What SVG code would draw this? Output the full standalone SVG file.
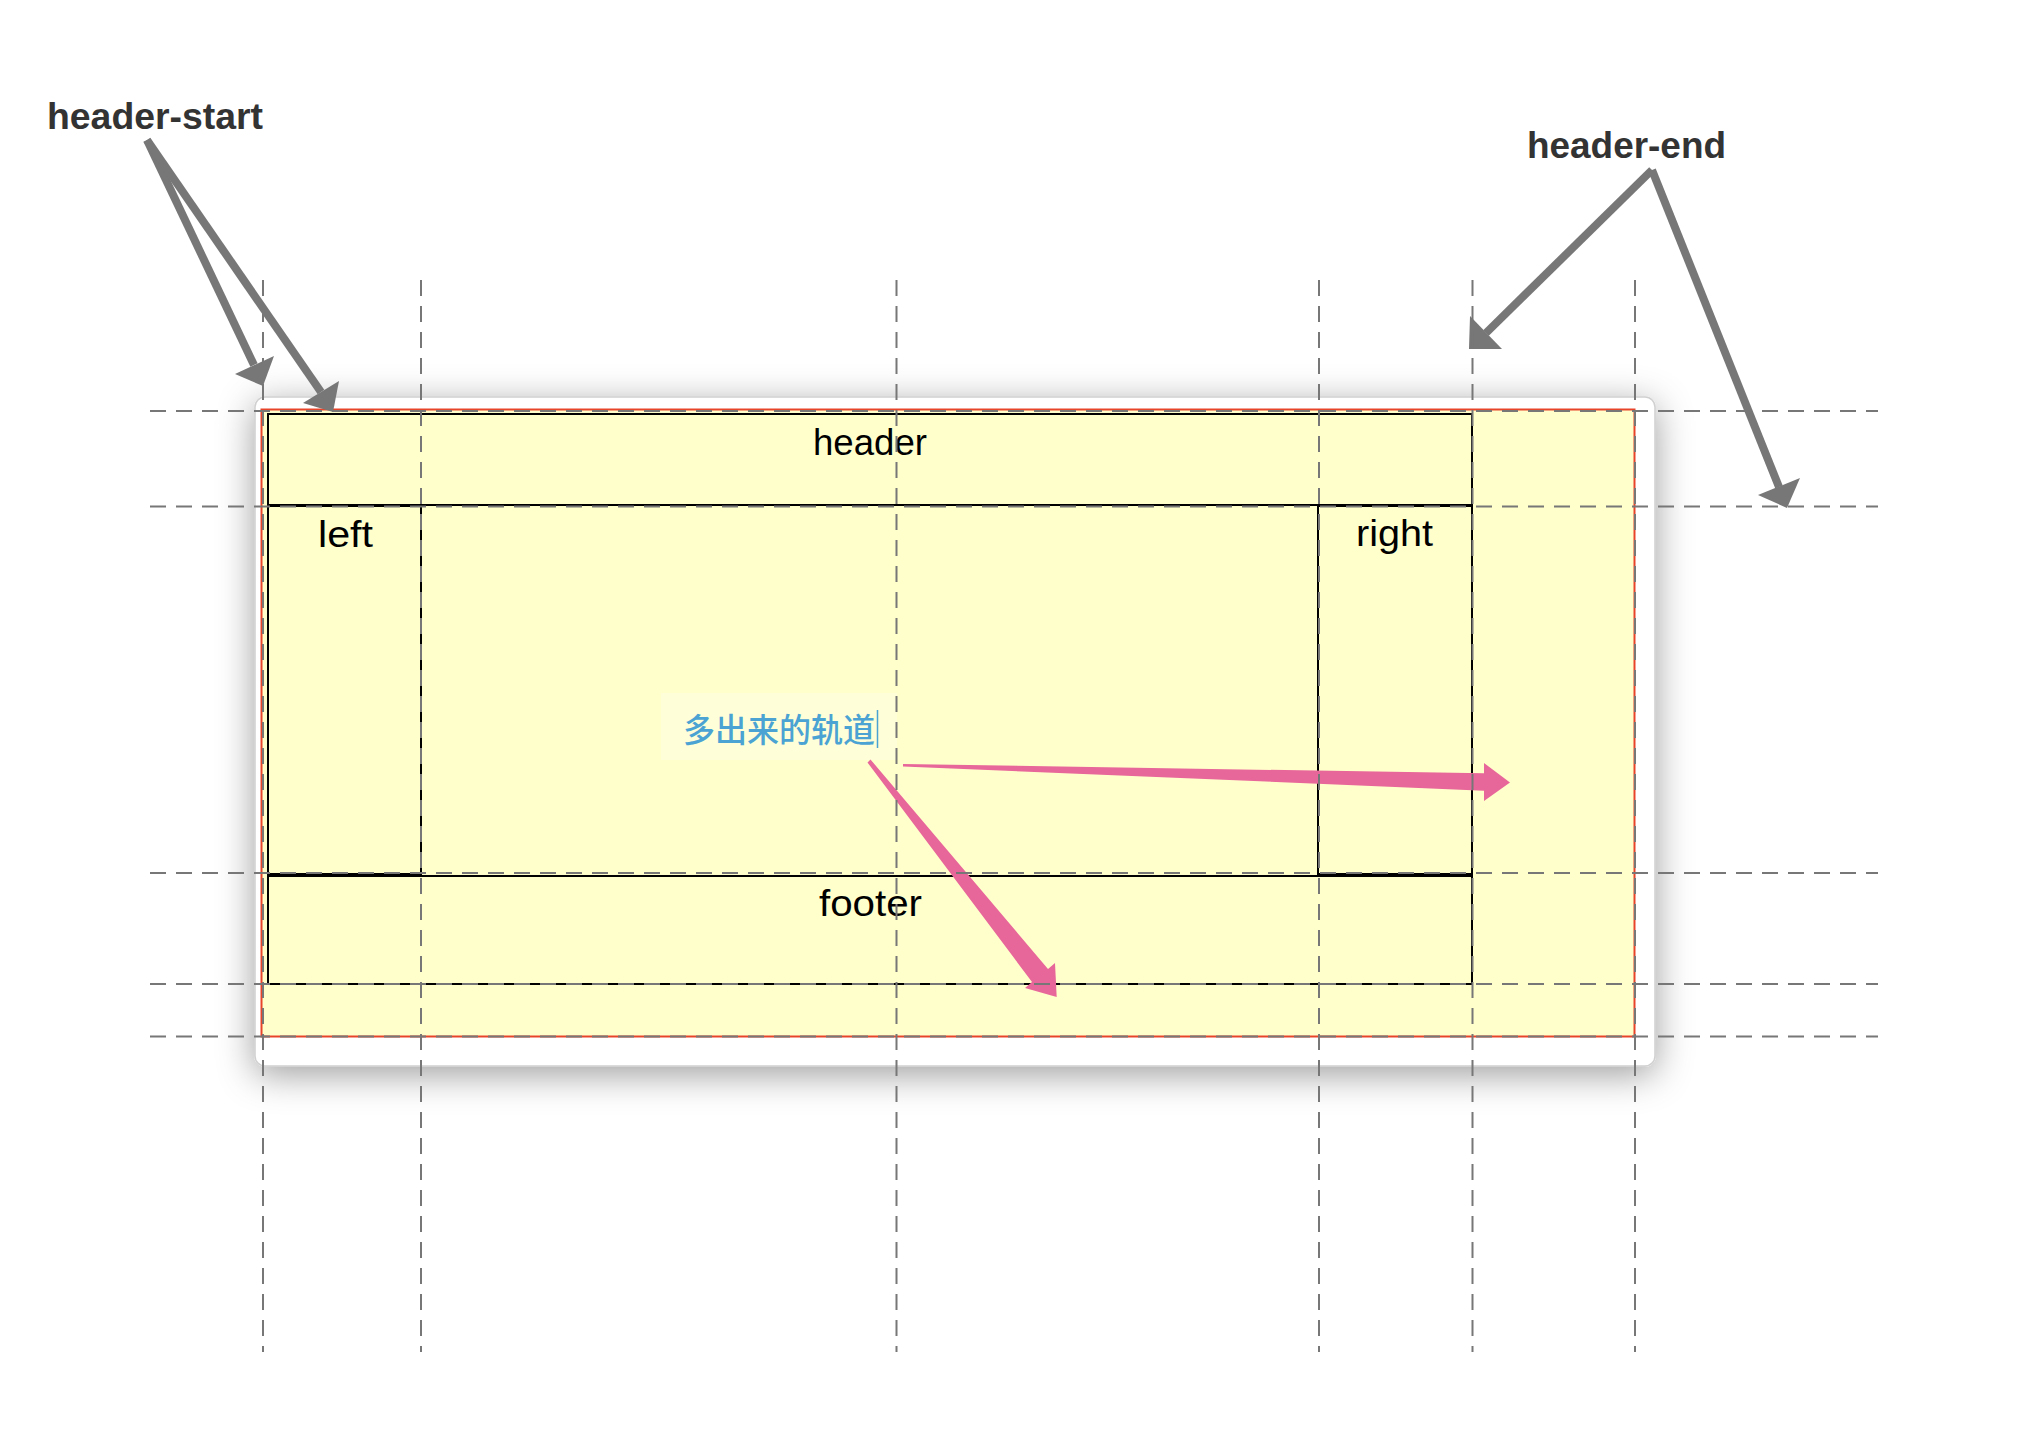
<svg xmlns="http://www.w3.org/2000/svg" width="2028" height="1432" viewBox="0 0 2028 1432">
<defs>
<filter id="shadow" x="-10%" y="-20%" width="120%" height="145%">
<feDropShadow dx="0" dy="8" stdDeviation="18" flood-color="#000" flood-opacity="0.38"/>
</filter>
</defs>
<style>
.box{fill:none;stroke:#000;stroke-width:2}
.lbl{font-family:"Liberation Sans",Arial,sans-serif;font-size:36px;fill:#000}
.ann{font-family:"Liberation Sans",Arial,sans-serif;font-size:36px;font-weight:bold;fill:#333}
.guide{stroke:#777;stroke-width:2;stroke-dasharray:16 10;fill:none}
.garrow{stroke:#777;stroke-width:8;fill:none}
.ghead{fill:#777}
.pink{fill:#e8679a}
</style>
<rect width="2028" height="1432" fill="#fff"/>
<g id="window">
<rect x="255" y="397" width="1400" height="669" rx="10" fill="#fff" stroke="#d0d0d0" stroke-width="1.5" filter="url(#shadow)"/>
<rect x="261.5" y="409.5" width="1373" height="627" fill="#ffffcc" stroke="#e8442a" stroke-width="2"/>
</g>
<g id="header">
<rect class="box" x="268" y="414" width="1204" height="91"/>
<text class="lbl" x="813" y="455" textLength="114" lengthAdjust="spacingAndGlyphs">header</text>
</g>
<g id="left">
<rect class="box" x="268" y="506" width="153" height="368"/>
<text class="lbl" x="318" y="547" textLength="55" lengthAdjust="spacingAndGlyphs">left</text>
</g>
<g id="right">
<rect class="box" x="1318" y="506" width="154" height="368"/>
<text class="lbl" x="1356" y="546" textLength="77" lengthAdjust="spacingAndGlyphs">right</text>
</g>
<g id="footer">
<rect class="box" x="268" y="876" width="1204" height="108"/>
<text class="lbl" x="819" y="916" textLength="103" lengthAdjust="spacingAndGlyphs">footer</text>
</g>
<g id="extra-track-label">
<rect x="661" y="693" width="236" height="67" fill="#fefed8"/>
<text x="683" y="742" font-family="'Noto Sans CJK SC',sans-serif" font-size="33" font-weight="500" fill="#4aa3d3" textLength="192" lengthAdjust="spacingAndGlyphs">多出来的轨道</text>
<line x1="877.5" y1="710" x2="877.5" y2="748" stroke="#4aa3d3" stroke-width="1.5"/>
</g>
<g id="annotations">
<text class="ann" x="47" y="129" textLength="216" lengthAdjust="spacingAndGlyphs">header-start</text>
<text class="ann" x="1527" y="158" textLength="199" lengthAdjust="spacingAndGlyphs">header-end</text>
</g>
<g id="connectors">
<line class="garrow" x1="147" y1="140" x2="254" y2="365"/>
<polygon class="ghead" points="235,374 274,356 263,386"/>
<line class="garrow" x1="147" y1="140" x2="321" y2="392"/>
<polygon class="ghead" points="303,403 339,381 333,412"/>
<line class="garrow" x1="1652" y1="170" x2="1486" y2="333"/>
<polygon class="ghead" points="1470,316 1502,349 1469,349"/>
<line class="garrow" x1="1652" y1="170" x2="1779" y2="487"/>
<polygon class="ghead" points="1758,495 1800,478 1787,508"/>
<polygon class="pink" points="903,764 1484,773.3 1484,763 1510,782.5 1484,801 1484,790.7 903,766.5"/>
<polygon class="pink" points="870.5,759.5 1048,969 1055,963 1056.7,997 1025,988 1032,982 867.5,762.5"/>
</g>
<g id="guides">
<line class="guide" x1="263" y1="280" x2="263" y2="1352"/>
<line class="guide" x1="421" y1="280" x2="421" y2="1352"/>
<line class="guide" x1="896.5" y1="280" x2="896.5" y2="1352"/>
<line class="guide" x1="1319" y1="280" x2="1319" y2="1352"/>
<line class="guide" x1="1472.5" y1="280" x2="1472.5" y2="1352"/>
<line class="guide" x1="1635" y1="280" x2="1635" y2="1352"/>
<line class="guide" x1="150" y1="411" x2="1878" y2="411"/>
<line class="guide" x1="150" y1="506.5" x2="1878" y2="506.5"/>
<line class="guide" x1="150" y1="873" x2="1878" y2="873"/>
<line class="guide" x1="150" y1="984" x2="1878" y2="984"/>
<line class="guide" x1="150" y1="1036.5" x2="1878" y2="1036.5"/>
</g>
</svg>
